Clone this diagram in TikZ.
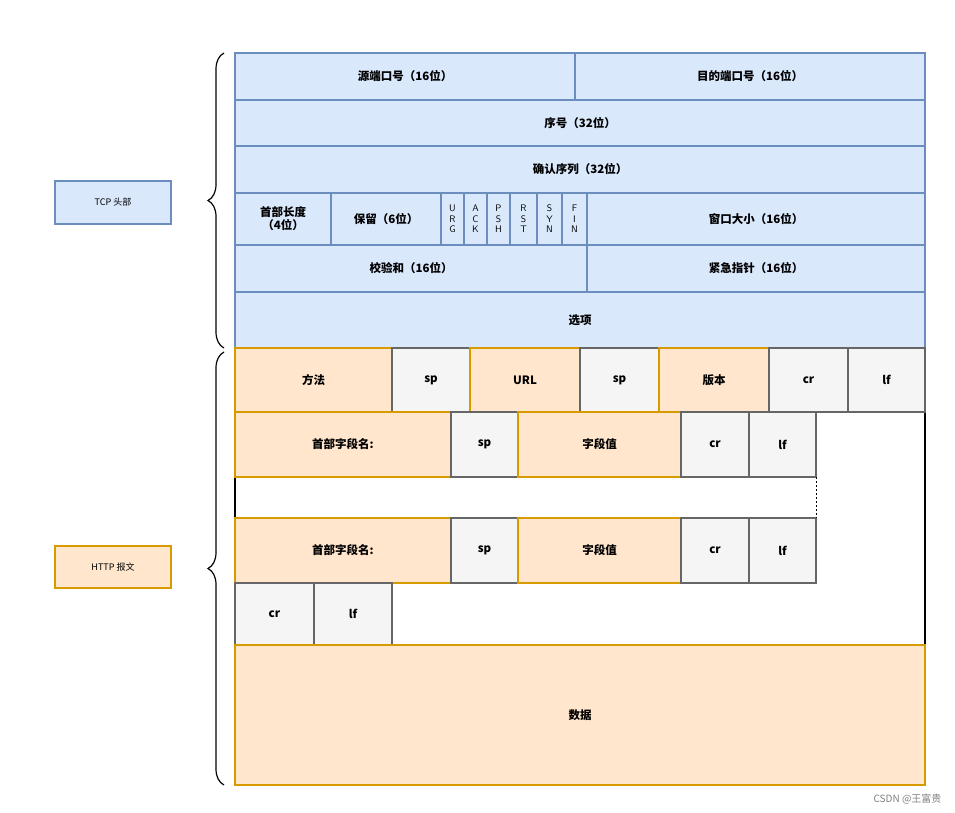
\documentclass[tikz,border=0pt]{standalone}
\usepackage{fontspec}
\setmainfont{Noto Sans CJK SC}
\usetikzlibrary{decorations.pathreplacing}
\definecolor{bfill}{HTML}{DAE8FC}\definecolor{bline}{HTML}{6C8EBF}
\definecolor{ofill}{HTML}{FFE6CC}\definecolor{oline}{HTML}{D79B00}
\definecolor{gfill}{HTML}{F5F5F5}\definecolor{gline}{HTML}{666666}
\tikzset{
 bb/.style={draw=bline,fill=bfill,line width=1.2pt},
 ob/.style={draw=oline,fill=ofill,line width=1.2pt},
 gb/.style={draw=gline,fill=gfill,line width=1.2pt},
 lab/.style={font=\bfseries\fontsize{11.5}{13}\selectfont},
 flag/.style={font=\sffamily\fontsize{10}{10.5}\selectfont,align=center},
 sm/.style={font=\fontsize{9}{11}\selectfont},
}
\newcommand{\cell}[6]{\path[#1] (#2,#3) rectangle (#4,#5) node[midway,lab,align=center] {#6};}
\begin{document}
\begin{tikzpicture}[x=1pt,y=-1pt]
\useasboundingbox (0,0) rectangle (955,813);
% TCP
\cell{bb}{235}{53}{575}{100}{源端口号（16位）}
\cell{bb}{575}{53}{925}{100}{目的端口号（16位）}
\cell{bb}{235}{100}{925}{146}{序号（32位）}
\cell{bb}{235}{146}{925}{193}{确认序列（32位）}
\cell{bb}{235}{193}{331}{245}{首部长度\\（4位）}
\cell{bb}{331}{193}{441}{245}{保留（6位）}
\foreach \a/\b/\t in {441/464/U\\R\\G,464/487/A\\C\\K,487/510/P\\S\\H,510/537/R\\S\\T,537/562/S\\Y\\N,562/587/F\\I\\N}
 {\path[bb] (\a,193) rectangle (\b,245) node[midway,flag,lab,font=\sffamily\fontsize{9.5}{10.5}\selectfont] {\t};}
\cell{bb}{587}{193}{925}{245}{窗口大小（16位）}
\cell{bb}{235}{245}{587}{292}{校验和（16位）}
\cell{bb}{587}{245}{925}{292}{紧急指针（16位）}
\cell{bb}{235}{292}{925}{348}{选项}
% HTTP
\draw[line width=1.2pt] (925,412) -- (925,645);
\draw[line width=1.2pt] (235,477) -- (235,518);
\cell{ob}{235}{348}{392}{412}{方法}
\cell{gb}{392}{348}{470}{412}{sp}
\cell{ob}{470}{348}{580}{412}{URL}
\cell{gb}{580}{348}{659}{412}{sp}
\cell{ob}{659}{348}{769}{412}{版本}
\cell{gb}{769}{348}{848}{412}{cr}
\cell{gb}{848}{348}{925}{412}{lf}
\foreach \y/\z in {412/477,518/583}{
\cell{ob}{235}{\y}{451}{\z}{首部字段名:}
\cell{gb}{451}{\y}{518}{\z}{sp}
\cell{ob}{518}{\y}{681}{\z}{字段值}
\cell{gb}{681}{\y}{749}{\z}{cr}
\cell{gb}{749}{\y}{816}{\z}{lf}
}
\draw[dashed,dash pattern=on 2pt off 2pt,line width=0.8pt] (816,477) -- (816,518);
\cell{gb}{235}{583}{314}{645}{cr}
\cell{gb}{314}{583}{392}{645}{lf}
\cell{ob}{235}{645}{925}{785}{数据}
% labels
\node[draw=bline,fill=bfill,line width=1.2pt,minimum width=116pt,minimum height=43pt,sm] (tcp) at (113,202.5) {TCP 头部};
\node[draw=oline,fill=ofill,line width=1.2pt,minimum width=116pt,minimum height=42pt,sm] (http) at (113,567) {HTTP 报文};
\draw[line width=1.2pt,decorate,decoration={brace,amplitude=16pt}] (224,348) -- (224,53);
\draw[line width=1.2pt,decorate,decoration={brace,amplitude=16pt}] (224,785) -- (224,352);
\node[font=\fontsize{10}{12}\selectfont,text=gray,anchor=south east] (wm) at (945,808) {CSDN @王富贵};
\end{tikzpicture}
\end{document}
